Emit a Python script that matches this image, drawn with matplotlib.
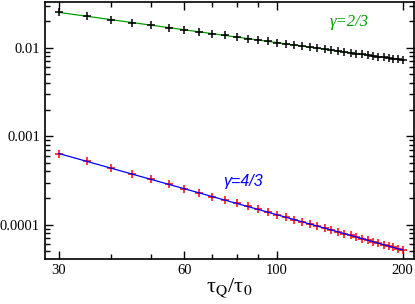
import matplotlib
matplotlib.use("Agg")
import matplotlib.pyplot as plt
from matplotlib.ticker import FixedLocator, NullFormatter

plt.rcParams['font.family'] = ['Liberation Serif', 'DejaVu Serif']
plt.rcParams['mathtext.fontset'] = 'stix'

# tau_Q / tau_0
tau = [30, 35, 40, 45, 50, 55, 60, 65, 70, 75, 80, 85, 90, 95, 100,
       105, 110, 115, 120, 125, 130, 135, 140, 145, 150, 155, 160,
       165, 170, 175, 180, 185, 190, 195, 200]

# gamma = 2/3 serie (puntos negros sobre linea verde)
y_23 = [0.02512, 0.02271, 0.02081, 0.01927, 0.01799, 0.01690, 0.01596,
        0.01515, 0.01443, 0.01380, 0.01322, 0.01271, 0.01225, 0.01182,
        0.01143, 0.01107, 0.01074, 0.01043, 0.01014, 0.00988, 0.00963,
        0.00939, 0.00917, 0.00897, 0.00877, 0.00858, 0.00840, 0.00824,
        0.00808, 0.00793, 0.00778, 0.00764, 0.00751, 0.00739, 0.00726]

# gamma = 4/3 serie (puntos rojos sobre linea azul)
y_43 = [6.38e-4, 5.205e-4, 4.36e-4, 3.73e-4, 3.245e-4, 2.86e-4, 2.55e-4,
        2.293e-4, 2.078e-4, 1.897e-4, 1.742e-4, 1.608e-4, 1.491e-4,
        1.387e-4, 1.296e-4, 1.215e-4, 1.142e-4, 1.077e-4, 1.018e-4,
        9.65e-5, 9.16e-5, 8.71e-5, 8.30e-5, 7.93e-5, 7.58e-5, 7.26e-5,
        6.96e-5, 6.68e-5, 6.42e-5, 6.18e-5, 5.95e-5, 5.74e-5, 5.54e-5,
        5.35e-5, 5.18e-5]

x_major = [30, 60, 100, 200]
x_minor = [40, 50, 70, 80, 90]
y_major = [0.0001, 0.001, 0.01]
y_labels = ['0.0001', '0.001', '0.01']

fig = plt.figure(figsize=(4.15, 3.04), dpi=100)
ax = fig.add_axes([0.1084, 0.149, 0.8892, 0.844])

ax.plot(tau, y_23, color='#00a000', lw=0.9, zorder=2)
ax.plot(tau, y_23, ls='none', marker='+', color='black', ms=6, mew=1.1, zorder=3)
ax.plot(tau, y_43, ls='none', marker='+', color='red', ms=6, mew=1.1, zorder=2)
ax.plot(tau, y_43, color='blue', lw=0.9, zorder=3)

ax.set_xscale('log')
ax.set_yscale('log')
ax.set_xlim(27.8, 212.9)
ax.set_ylim(4.13e-5, 0.0328)

ax.xaxis.set_major_locator(FixedLocator(x_major))
ax.xaxis.set_minor_locator(FixedLocator(x_minor))
ax.set_xticklabels([str(v) for v in x_major])
ax.xaxis.set_minor_formatter(NullFormatter())
ax.yaxis.set_major_locator(FixedLocator(y_major))
ax.set_yticklabels(y_labels)
ax.yaxis.set_minor_formatter(NullFormatter())

ax.tick_params(which='both', direction='in', top=True, right=True, labelsize=10.5, width=1)
ax.tick_params(which='major', length=6)
ax.tick_params(which='minor', length=3.5)
for s in ax.spines.values():
    s.set_linewidth(1.2)

ax.set_xlabel('τ$_\\mathrm{Q}$/τ$_\\mathrm{0}$', fontsize=16, labelpad=0)

ax.text(0.824, 0.922, 'γ=2/3', transform=ax.transAxes, color='#00a000',
        fontsize=12, style='italic', ha='center', va='center')
ax.text(0.537, 0.299, 'γ=4/3', transform=ax.transAxes, color='blue',
        fontsize=11.5, style='italic', ha='center', va='center',
        family=['Liberation Sans', 'DejaVu Sans'])

fig.savefig('out.png', dpi=100)
